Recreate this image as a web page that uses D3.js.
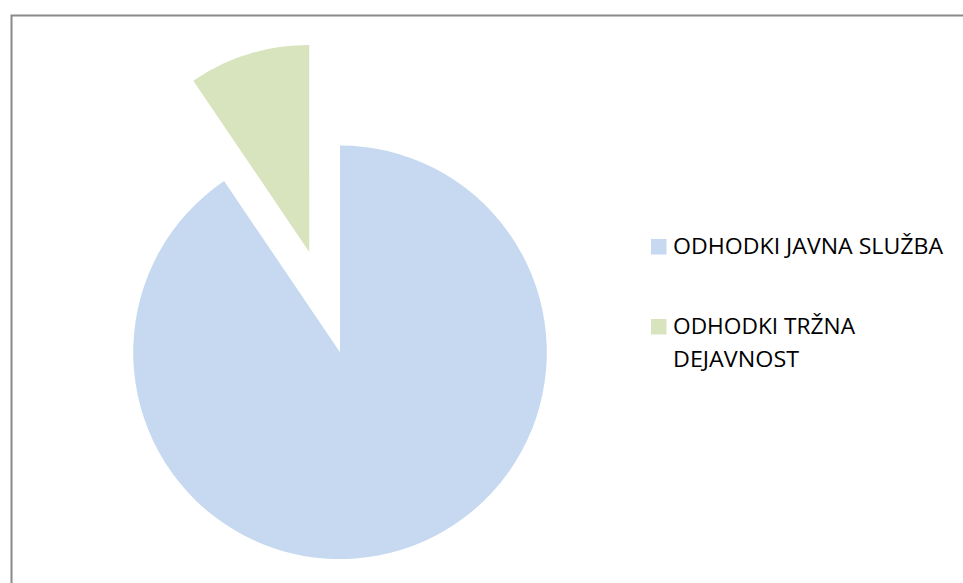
<!DOCTYPE html>
<html><head><meta charset="utf-8">
<script src="https://cdn.jsdelivr.net/npm/d3@7"></script>
<style>html,body{margin:0;padding:0;background:#fff;overflow:hidden}</style>
</head><body><svg id="c" width="963" height="583"></svg>
<script>
const categories = ["ODHODKI JAVNA SLUŽBA", "ODHODKI TRŽNA DEJAVNOST"];
const values = [90.53, 9.47];
const colors = ["#C6D9F1", "#D7E4BD"];
const legendLines = [["ODHODKI JAVNA SLUŽBA"], ["ODHODKI TRŽNA", "DEJAVNOST"]];
const legendWidths = [[270], [182, 126]];
const explode = [0, 105];

const svg = d3.select("#c");
svg.append("rect").attr("x", 11.5).attr("y", 15.5).attr("width", 1100).attr("height", 1000)
  .attr("fill", "#fff").attr("stroke", "#898989").attr("stroke-width", 2);

const cx = 340, cy = 352.3, r = 206.8;
const pie = d3.pie().sort(null).value(d => d.v).startAngle(0).endAngle(2 * Math.PI);
const arcs = pie(values.map((v, i) => ({v, i})));
const arc = d3.arc().innerRadius(0).outerRadius(r);
const g = svg.append("g").attr("transform", `translate(${cx},${cy})`);
g.selectAll("path").data(arcs).join("path")
  .attr("d", arc)
  .attr("fill", d => colors[d.data.i])
  .attr("transform", d => {
    const m = (d.startAngle + d.endAngle) / 2, o = explode[d.data.i];
    return `translate(${Math.sin(m) * o},${-Math.cos(m) * o})`;
  });

const legendY = [254, 334];
const lg = svg.append("g");
categories.forEach((c, i) => {
  lg.append("rect").attr("x", 651).attr("y", legendY[i] - 15).attr("width", 15.5).attr("height", 15.5).attr("fill", colors[i]);
  legendLines[i].forEach((t, j) => {
    lg.append("text").attr("x", 673).attr("y", legendY[i] + j * 33)
      .attr("font-family", "Open Sans, sans-serif").attr("font-size", 21).attr("fill", "#000")
      .attr("textLength", legendWidths[i][j]).attr("lengthAdjust", "spacingAndGlyphs")
      .text(t);
  });
});
</script></body></html>
